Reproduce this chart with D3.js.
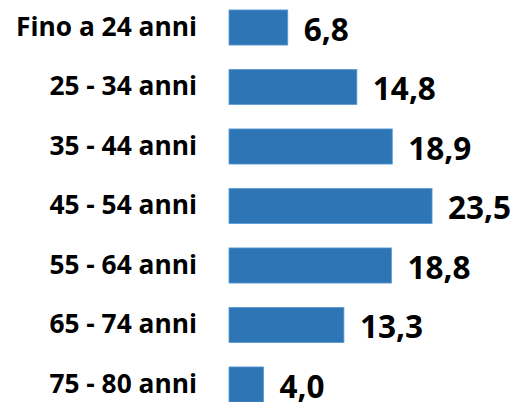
<!doctype html>
<html lang="it">

<head>
    <meta charset="UTF-8">
    <title>Età</title>
    <style>
        body { margin: 0; background: #fff; }
        svg { display: block; }
    </style>
</head>

<body>
    <svg width="518" height="402"></svg>
    <script src="https://cdn.jsdelivr.net/npm/d3@7"></script>
    <script>
    var categories = ['Fino a 24 anni', '25 - 34 anni', '35 - 44 anni', '45 - 54 anni', '55 - 64 anni', '65 - 74 anni', '75 - 80 anni'];
    var values = [6.8, 14.8, 18.9, 23.5, 18.8, 13.3, 4.0];

    var svg = d3.select('svg');
    var fmt = d3.formatLocale({ decimal: ',', thousands: '.', grouping: [3], currency: ['', '€'] }).format('.1f');

    // scale
    var x = d3.scaleLinear()
        .domain([0, 25])
        .range([229, 445]);
    var y = d3.scaleBand()
        .domain(categories)
        .range([-2.25, 414.25])
        .paddingInner(0.41)
        .paddingOuter(0.205);

    // category labels
    var yAxis = svg.append('g')
        .attr('transform', 'translate(229,0)')
        .call(d3.axisLeft(y).tickSize(0).tickPadding(32));
    yAxis.select('.domain').remove();
    yAxis.selectAll('text')
        .attr('font-family', '"Open Sans", sans-serif')
        .attr('font-weight', 700)
        .attr('font-size', 26.3)
        .attr('fill', '#000');

    // bars
    svg.append('g')
        .selectAll('rect')
        .data(values)
        .enter()
        .append('rect')
        .attr('x', x(0))
        .attr('y', function(d, i) { return y(categories[i]); })
        .attr('width', function(d) { return x(d) - x(0); })
        .attr('height', y.bandwidth())
        .attr('fill', '#2e75b6')
        .attr('stroke', '#5b9bd5')
        .attr('stroke-width', 0.8);

    // value labels
    svg.append('g')
        .selectAll('text')
        .data(values)
        .enter()
        .append('text')
        .attr('x', function(d) { return x(d) + 16; })
        .attr('y', function(d, i) { return y(categories[i]) + y.bandwidth() / 2 + 2; })
        .attr('dy', '0.35em')
        .attr('font-family', '"Open Sans", sans-serif')
        .attr('font-weight', 700)
        .attr('font-size', 31.5)
        .attr('fill', '#000')
        .text(function(d) { return fmt(d); });
    </script>
</body>

</html>
